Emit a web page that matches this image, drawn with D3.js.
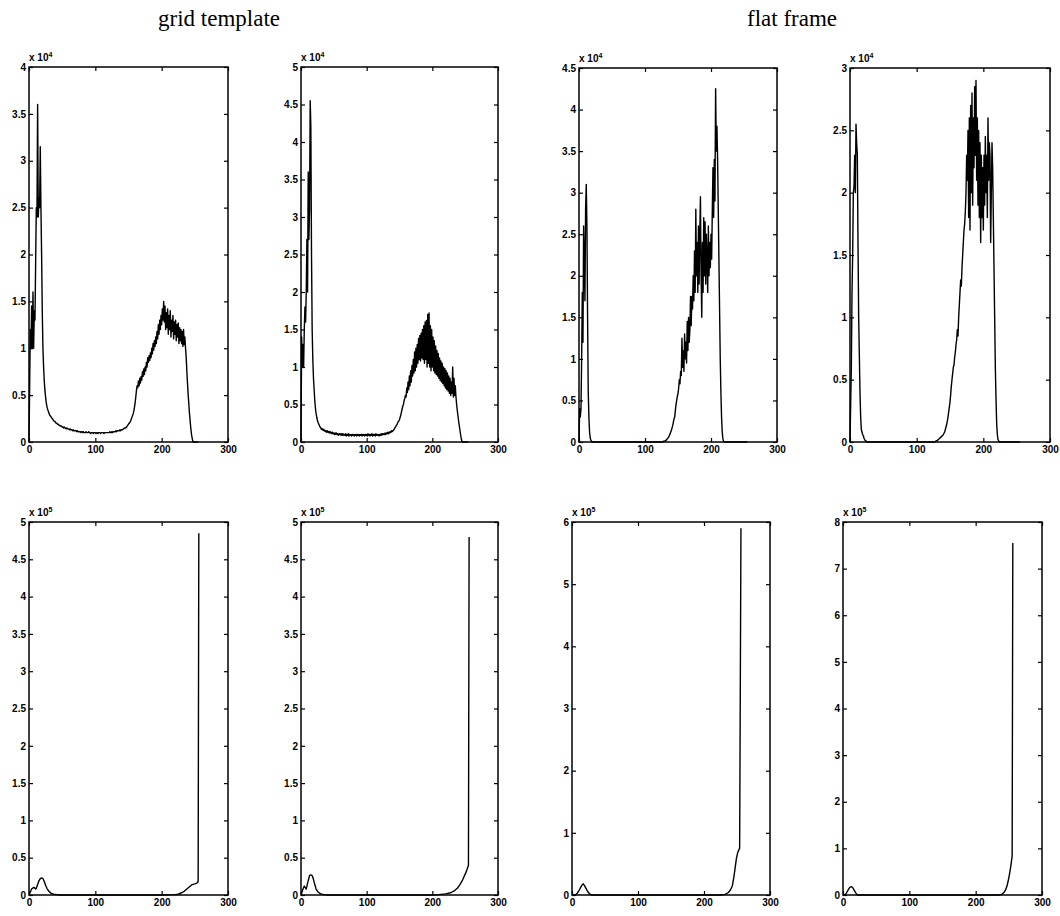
<!DOCTYPE html>
<html><head><meta charset="utf-8">
<script src="https://cdn.jsdelivr.net/npm/d3@7"></script>
<style>body{margin:0;background:#fff}svg{display:block}</style>
</head><body><svg id="c" width="1060" height="916"></svg>
<script>
// ---------- DATA ----------
const columnTitles = ["grid template", "flat frame"];
const xTickValues = [0, 100, 200, 300];
const yTicksHalf4 = [0, 0.5, 1, 1.5, 2, 2.5, 3, 3.5, 4];
const yTicksHalf5 = [0, 0.5, 1, 1.5, 2, 2.5, 3, 3.5, 4, 4.5, 5];
const yTicksHalf45 = [0, 0.5, 1, 1.5, 2, 2.5, 3, 3.5, 4, 4.5];
const yTicksHalf3 = [0, 0.5, 1, 1.5, 2, 2.5, 3];
const yTicksOne6 = [0, 1, 2, 3, 4, 5, 6];
const yTicksOne8 = [0, 1, 2, 3, 4, 5, 6, 7, 8];
const exponents = ["4", "4", "4", "4", "5", "5", "5", "5"];
const yMaxima = [4, 5, 4.5, 3, 5, 5, 6, 8];

// top row: histogram counts per grey level 0..255, in units of 10^4
const gridTopA = [
0,0.6,1.2,1.0,1.45,1.0,1.6,1.0,1.4,1.3,
1.9,2.5,2.4,3.6,2.4,2.6,2.5,3.15,2.5,2.0,
1.4,1.0,0.8,0.65,0.55,0.48,0.42,0.38,0.35,0.33,
0.31,0.29,0.28,0.27,0.26,0.25,0.24,0.23,0.22,0.22,
0.21,0.2,0.2,0.19,0.19,0.18,0.18,0.17,0.17,0.17,
0.16,0.16,0.15,0.16,0.15,0.15,0.14,0.15,0.14,0.14,
0.14,0.13,0.14,0.13,0.13,0.13,0.12,0.13,0.12,0.12,
0.12,0.12,0.11,0.12,0.11,0.11,0.11,0.11,0.1,0.11,
0.11,0.1,0.11,0.1,0.1,0.1,0.11,0.1,0.1,0.1,
0.11,0.1,0.1,0.09,0.1,0.1,0.1,0.09,0.1,0.1,
0.1,0.09,0.1,0.1,0.09,0.1,0.1,0.1,0.09,0.1,
0.1,0.1,0.1,0.09,0.1,0.1,0.1,0.1,0.1,0.1,
0.1,0.1,0.11,0.1,0.1,0.11,0.1,0.11,0.11,0.11,
0.11,0.12,0.11,0.12,0.12,0.12,0.12,0.13,0.12,0.13,
0.13,0.13,0.14,0.14,0.15,0.15,0.15,0.16,0.17,0.18,
0.19,0.2,0.21,0.22,0.24,0.26,0.28,0.3,0.33,0.37,
0.42,0.48,0.55,0.6,0.58,0.65,0.6,0.68,0.63,0.7,
0.66,0.75,0.7,0.78,0.72,0.8,0.76,0.85,0.8,0.9,
0.85,0.92,0.87,0.95,0.9,1.0,0.94,1.05,0.98,1.08,
1.02,1.12,1.05,1.18,1.1,1.25,1.15,1.3,1.2,1.35,
1.25,1.42,1.3,1.5,1.28,1.45,1.2,1.38,1.22,1.42,
1.15,1.35,1.2,1.4,1.12,1.3,1.18,1.35,1.1,1.28,
1.15,1.3,1.08,1.25,1.12,1.27,1.05,1.22,1.08,1.2,
1.05,1.18,1.02,1.2,1.04,1.12,1.0,0.9,0.75,0.62,
0.5,0.4,0.3,0.22,0.14,0.08,0.04,0.01,0,0,
0,0,0,0,0,0];

const gridTopB = [
0,1.4,1.0,1.3,1.0,1.5,1.8,1.6,2.0,2.7,
2.0,3.6,2.7,3.1,4.55,4.2,2.5,1.5,1.1,0.85,
0.7,0.55,0.45,0.38,0.33,0.29,0.26,0.24,0.22,0.2,
0.19,0.17,0.18,0.16,0.17,0.15,0.16,0.14,0.15,0.13,
0.15,0.13,0.14,0.12,0.14,0.12,0.13,0.11,0.13,0.11,
0.12,0.1,0.12,0.1,0.12,0.1,0.11,0.09,0.11,0.1,
0.11,0.09,0.11,0.09,0.11,0.09,0.1,0.09,0.11,0.08,
0.1,0.09,0.11,0.08,0.1,0.09,0.1,0.08,0.1,0.09,
0.1,0.08,0.1,0.09,0.1,0.08,0.1,0.09,0.1,0.08,
0.1,0.09,0.1,0.08,0.1,0.09,0.1,0.08,0.1,0.09,
0.1,0.08,0.11,0.09,0.1,0.08,0.1,0.09,0.11,0.08,
0.1,0.09,0.1,0.08,0.11,0.09,0.1,0.09,0.1,0.08,
0.1,0.09,0.11,0.09,0.11,0.1,0.11,0.1,0.12,0.1,
0.12,0.11,0.13,0.11,0.13,0.12,0.14,0.13,0.15,0.14,
0.15,0.16,0.17,0.19,0.2,0.22,0.23,0.25,0.27,0.28,
0.3,0.33,0.36,0.4,0.44,0.48,0.5,0.55,0.58,0.62,
0.6,0.72,0.66,0.8,0.7,0.88,0.75,0.95,0.8,1.02,
0.88,1.1,0.92,1.2,0.95,1.25,1.0,1.3,1.05,1.38,
1.1,1.42,1.08,1.45,1.12,1.5,1.1,1.55,1.05,1.6,
1.1,1.62,1.0,1.7,1.05,1.72,1.0,1.55,0.95,1.5,
1.0,1.4,0.95,1.35,0.92,1.28,0.9,1.22,0.88,1.18,
0.85,1.12,0.82,1.08,0.8,1.05,0.78,1.0,0.75,0.98,
0.72,0.95,0.7,0.92,0.68,0.88,0.65,0.85,0.62,0.8,
0.65,1.0,0.6,0.85,0.62,0.75,0.6,0.5,0.42,0.35,
0.28,0.22,0.16,0.1,0.05,0.01,0,0,0,0,
0,0,0,0,0,0];

const flatTopA = [
0,0.4,0.3,0.4,1.0,1.8,1.2,2.6,2.2,1.7,
2.8,3.1,2.6,1.5,0.6,0.3,0.12,0.05,0.02,0.01,
0,0,0,0,0,0,0,0,0,0,
0,0,0,0,0,0,0,0,0,0,
0,0,0,0,0,0,0,0,0,0,
0,0,0,0,0,0,0,0,0,0,
0,0,0,0,0,0,0,0,0,0,
0,0,0,0,0,0,0,0,0,0,
0,0,0,0,0,0,0,0,0,0,
0,0,0,0,0,0,0,0,0,0,
0,0,0,0,0,0,0,0,0,0,
0,0,0,0,0,0,0,0,0,0,
0,0,0,0,0,0,0,0,0.01,0.01,
0.01,0.02,0.02,0.03,0.04,0.05,0.06,0.08,0.1,0.12,
0.14,0.17,0.2,0.24,0.28,0.3,0.38,0.45,0.5,0.55,
0.58,0.65,0.75,0.7,0.85,0.8,1.25,0.9,1.1,0.85,
1.3,1.0,1.2,0.95,1.45,1.1,1.5,1.2,1.35,1.75,
1.4,1.75,1.6,2.0,1.7,2.3,1.8,2.8,2.0,2.4,
1.8,2.6,1.9,2.5,2.95,2.0,1.5,2.4,1.8,2.7,
2.0,2.65,1.9,2.5,2.2,1.8,2.6,2.0,2.4,2.1,
2.5,2.2,2.8,3.3,2.7,3.4,2.9,4.25,3.5,3.8,
3.4,2.8,2.2,1.6,1.0,0.6,0.3,0.12,0.04,0.01,
0,0,0,0,0,0,0,0,0,0,
0,0,0,0,0,0,0,0,0,0,
0,0,0,0,0,0,0,0,0,0,
0,0,0,0,0,0];

const flatTopB = [
0,0.3,0.6,1.2,1.5,2.0,2.05,2.3,2.0,2.55,
2.4,2.3,1.6,1.0,0.7,0.4,0.2,0.1,0.08,0.06,
0.05,0.03,0.02,0.01,0.01,0,0,0,0,0,
0,0,0,0,0,0,0,0,0,0,
0,0,0,0,0,0,0,0,0,0,
0,0,0,0,0,0,0,0,0,0,
0,0,0,0,0,0,0,0,0,0,
0,0,0,0,0,0,0,0,0,0,
0,0,0,0,0,0,0,0,0,0,
0,0,0,0,0,0,0,0,0,0,
0,0,0,0,0,0,0,0,0,0,
0,0,0,0,0,0,0,0,0,0,
0,0,0,0,0,0,0,0,0,0.01,
0.01,0.01,0.02,0.02,0.03,0.03,0.04,0.04,0.05,0.05,
0.06,0.07,0.08,0.1,0.12,0.14,0.17,0.2,0.24,0.28,
0.32,0.38,0.45,0.5,0.55,0.6,0.62,0.68,0.72,0.78,
0.82,0.9,0.85,1.0,1.1,1.2,1.3,1.25,1.4,1.5,
1.6,1.7,1.75,1.85,2.0,2.3,2.1,2.5,1.8,2.6,
1.7,2.7,2.0,2.8,1.9,2.6,2.2,2.85,2.3,2.9,
2.1,2.6,1.9,2.5,1.8,2.4,1.6,2.3,1.8,2.2,
1.7,2.3,1.9,2.45,2.0,2.3,1.8,2.6,2.1,2.4,
2.3,1.6,2.0,2.4,2.2,1.8,1.4,1.0,0.6,0.35,
0.15,0.06,0.02,0.01,0,0,0,0,0,0,
0,0,0,0,0,0,0,0,0,0,
0,0,0,0,0,0,0,0,0,0,
0,0,0,0,0,0];

// bottom row: grey level / count (units of 10^5) readings
const gridBotAX = [0,2,4,5,7,8,10,11,13,15,17,19,21,23,25,27,30,33,37,42,47,60,100,150,200,220,225,230,234,238,242,246,250,253,255,256];
const gridBotAY = [0,0.04,0.08,0.09,0.1,0.1,0.08,0.09,0.14,0.19,0.22,0.23,0.22,0.18,0.13,0.09,0.05,0.025,0.01,0.005,0,0,0,0,0,0.005,0.01,0.03,0.05,0.08,0.11,0.14,0.15,0.16,0.18,4.85];
const gridBotBX = [0,3,5,8,10,13,15,17,19,21,23,26,30,35,40,60,100,150,200,210,220,228,234,238,242,246,249,252,255,256];
const gridBotBY = [0,0.08,0.12,0.08,0.16,0.26,0.27,0.26,0.21,0.14,0.08,0.04,0.015,0.005,0,0,0,0,0,0.005,0.015,0.03,0.06,0.09,0.14,0.2,0.26,0.32,0.4,4.8];
const flatBotAX = [0,5,8,11,14,16,17,19,21,23,25,27,30,60,100,150,200,225,232,237,240,243,245,247,249,251,253,254,256];
const flatBotAY = [0,0,0.03,0.08,0.14,0.17,0.18,0.15,0.11,0.07,0.04,0.015,0,0,0,0,0,0,0.01,0.04,0.08,0.15,0.27,0.42,0.58,0.68,0.73,0.75,5.9];
const flatBotBX = [0,3,5,7,9,11,13,15,17,19,21,23,60,100,150,200,236,240,243,245,247,249,251,253,255,256];
const flatBotBY = [0,0,0.04,0.09,0.14,0.17,0.18,0.15,0.1,0.05,0.01,0,0,0,0,0,0,0.02,0.06,0.11,0.18,0.3,0.45,0.62,0.84,7.55];

// ---------- LAYOUT ----------
const boxes = [
  {l: 29, t: 67, r: 228, b: 442},
  {l: 301, t: 67, r: 498, b: 442},
  {l: 579, t: 68, r: 777, b: 442},
  {l: 850, t: 68, r: 1050, b: 442},
  {l: 29, t: 522, r: 228, b: 895},
  {l: 301, t: 522, r: 498, b: 895},
  {l: 572, t: 522, r: 770, b: 895},
  {l: 843, t: 522, r: 1042, b: 895}
];
const series = [
  gridTopA.map((v, i) => [i, v]),
  gridTopB.map((v, i) => [i, v]),
  flatTopA.map((v, i) => [i, v]),
  flatTopB.map((v, i) => [i, v]),
  gridBotAX.map((x, i) => [x, gridBotAY[i]]),
  gridBotBX.map((x, i) => [x, gridBotBY[i]]),
  flatBotAX.map((x, i) => [x, flatBotAY[i]]),
  flatBotBX.map((x, i) => [x, flatBotBY[i]])
];
const yTickSets = [yTicksHalf4, yTicksHalf5, yTicksHalf45, yTicksHalf3, yTicksHalf5, yTicksHalf5, yTicksOne6, yTicksOne8];

const svg = d3.select("#c");
const font = "'Liberation Sans', Arial, Helvetica, sans-serif";
const fmt = d3.format("~g");

svg.append("text").attr("x", 219).attr("y", 26).attr("text-anchor", "middle")
  .attr("font-family", "'Liberation Serif', 'Times New Roman', serif").attr("font-size", 23)
  .text(columnTitles[0]);
svg.append("text").attr("x", 792).attr("y", 26).attr("text-anchor", "middle")
  .attr("font-family", "'Liberation Serif', 'Times New Roman', serif").attr("font-size", 23)
  .text(columnTitles[1]);

boxes.forEach((bx, k) => {
  const x = d3.scaleLinear().domain([0, 300]).range([bx.l, bx.r]);
  const y = d3.scaleLinear().domain([0, yMaxima[k]]).range([bx.b, bx.t]);
  const g = svg.append("g");

  const styleAxis = sel => {
    sel.select(".domain").remove();
    sel.selectAll("line").attr("stroke", "#000").attr("stroke-width", 1.2);
    sel.selectAll("text").attr("font-family", font).attr("font-size", 10)
      .attr("font-weight", "bold").attr("fill", "#000");
  };

  g.append("g").attr("transform", `translate(0,${bx.b})`)
    .call(d3.axisBottom(x).tickValues(xTickValues).tickSize(-4).tickPadding(4).tickFormat(fmt))
    .call(styleAxis);
  g.append("g").attr("transform", `translate(0,${bx.t})`)
    .call(d3.axisTop(x).tickValues(xTickValues).tickSize(-4).tickFormat(""))
    .call(styleAxis);
  g.append("g").attr("transform", `translate(${bx.l},0)`)
    .call(d3.axisLeft(y).tickValues(yTickSets[k]).tickSize(-4).tickPadding(3).tickFormat(fmt))
    .call(styleAxis);
  g.append("g").attr("transform", `translate(${bx.r},0)`)
    .call(d3.axisRight(y).tickValues(yTickSets[k]).tickSize(-4).tickFormat(""))
    .call(styleAxis);

  g.append("rect").attr("x", bx.l).attr("y", bx.t)
    .attr("width", bx.r - bx.l).attr("height", bx.b - bx.t)
    .attr("fill", "none").attr("stroke", "#000").attr("stroke-width", 1.5);

  const line = d3.line().x(d => x(d[0])).y(d => y(d[1]));
  g.append("path").datum(series[k]).attr("d", line)
    .attr("fill", "none").attr("stroke", "#000").attr("stroke-width", 1.4)
    .attr("stroke-linejoin", "round");

  const ex = g.append("text").attr("x", bx.l).attr("y", bx.t - 6)
    .attr("font-family", font).attr("font-size", 10).attr("font-weight", "bold");
  ex.append("tspan").text("x 10");
  ex.append("tspan").attr("dy", -4).attr("font-size", 7).text(exponents[k]);
});
</script>
</body></html>
